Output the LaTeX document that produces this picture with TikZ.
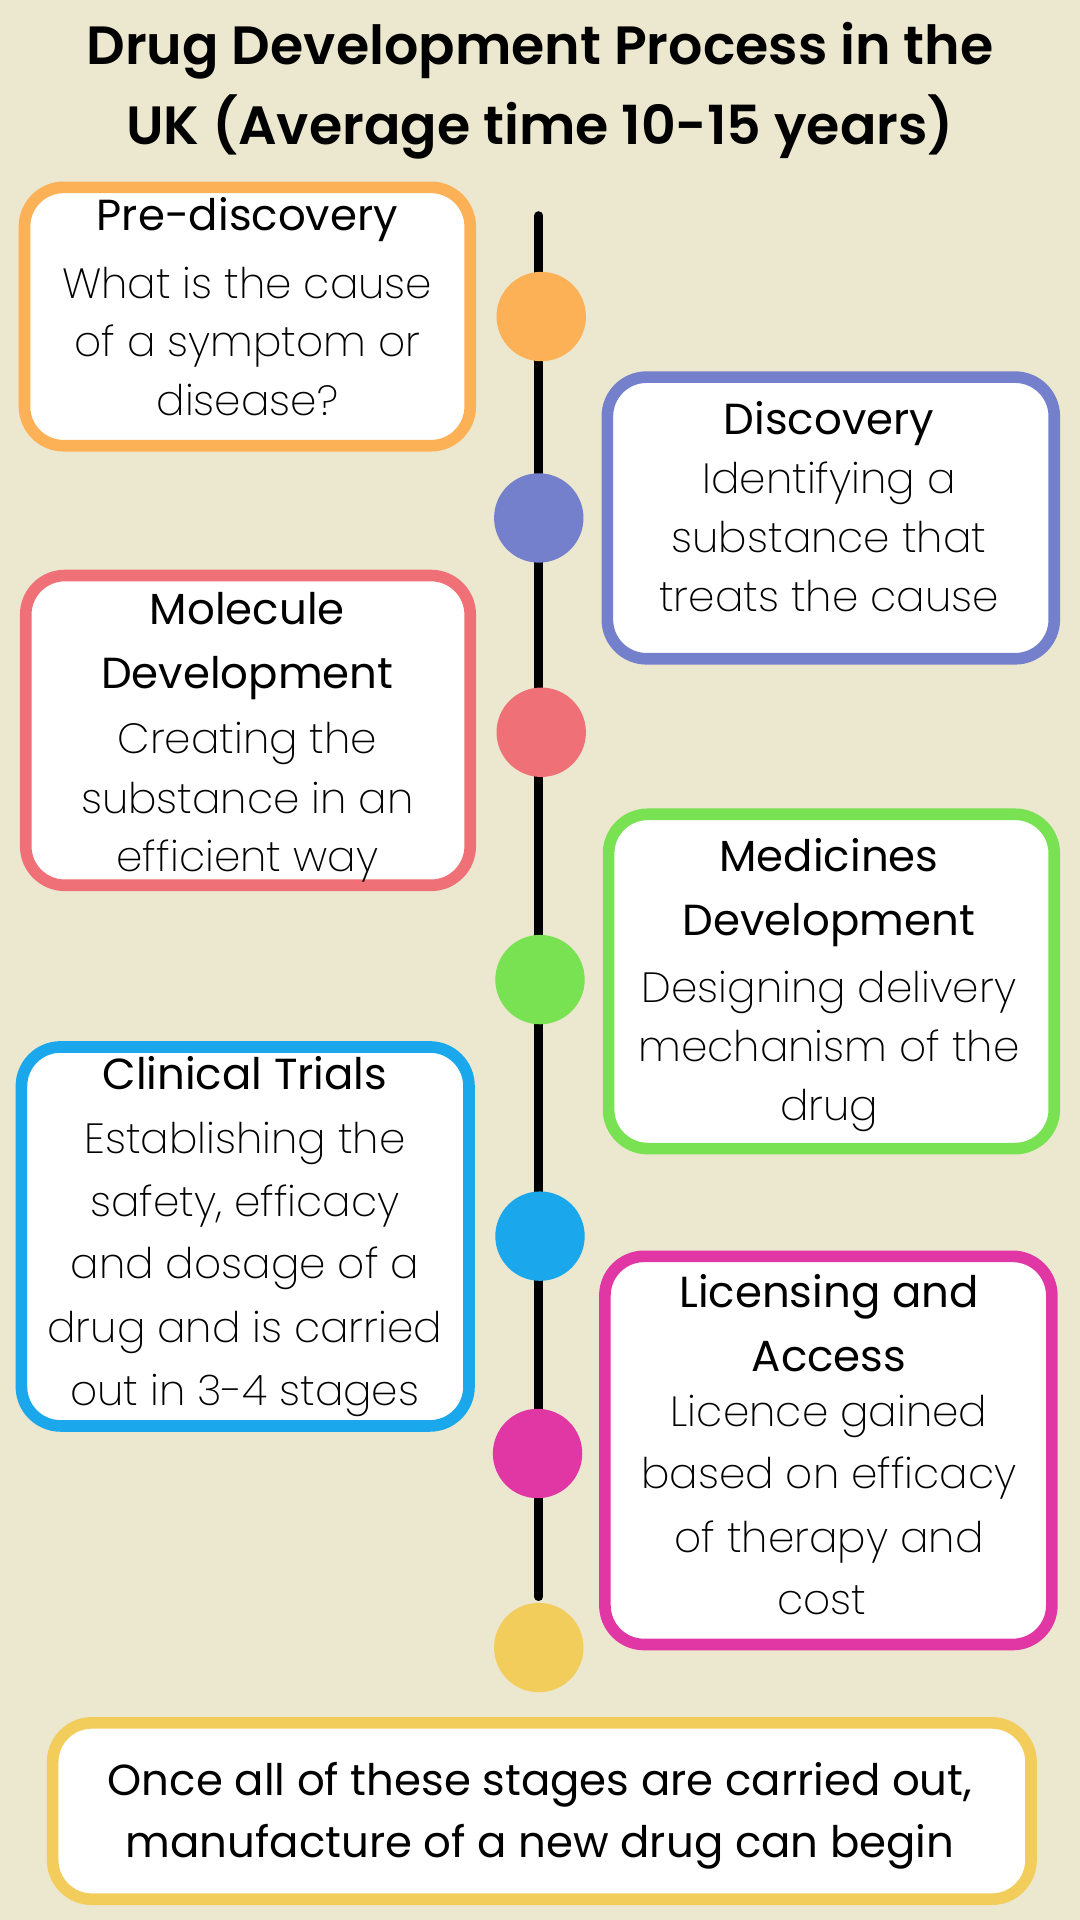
\documentclass[tikz,border=0pt]{standalone}
\usepackage{fontspec}
\setmainfont{Poppins}
\newfontfamily\titlefont{Poppins SemiBold}
\newfontfamily\headfont{Poppins}
\newfontfamily\bodyfont{Poppins ExtraLight}
\definecolor{bg}{HTML}{ECE7CF}
\definecolor{corange}{HTML}{FDB157}
\definecolor{cpurple}{HTML}{7580CC}
\definecolor{cred}{HTML}{EF7077}
\definecolor{cgreen}{HTML}{78E252}
\definecolor{cblue}{HTML}{1AA7EC}
\definecolor{cmag}{HTML}{E037A5}
\definecolor{cyellow}{HTML}{F2CD5B}
\tikzset{
  stagebox/.style={draw=#1, fill=white, line width=9.5pt, rounded corners=32pt},
  dot/.style={circle, fill=#1, minimum size=73pt, inner sep=0pt},
  titletxt/.style={font=\titlefont\fontsize{44}{53}\selectfont, anchor=base, inner sep=0pt},
  headtxt/.style={font=\headfont\fontsize{35.5}{52}\selectfont, anchor=base, inner sep=0pt},
  bodytxt/.style={font=\bodyfont\fontsize{34.5}{49}\selectfont, anchor=base, inner sep=0pt},
  endtxt/.style={font=\headfont\fontsize{35.5}{51}\selectfont, anchor=base, inner sep=0pt},
}
\begin{document}
\begin{tikzpicture}[x=1pt,y=-1pt]
\fill[bg] (0,0) rectangle (882,1568);
\useasboundingbox (0,0) rectangle (882,1568);
% title
\node[titletxt] (t1) at (441,53) {Drug Development Process in the};
\node[titletxt] (t2) at (441,118) {UK (Average time 10-15 years)};
% timeline
\coordinate (ltop) at (440,176);
\coordinate (lbot) at (440,1304);
\draw[line width=7pt, line cap=round] (ltop) -- (lbot);
\node[dot=corange] (d1) at (442,258.5) {};
\node[dot=cpurple] (d2) at (440,423) {};
\node[dot=cred] (d3) at (442,598) {};
\node[dot=cgreen] (d4) at (441,800) {};
\node[dot=cblue] (d5) at (441,1009.5) {};
\node[dot=cmag] (d6) at (439,1187) {};
\node[dot=cyellow] (d7) at (440,1345.5) {};
% boxes
\draw[stagebox=corange] (20,153) rectangle (384,364);
\draw[stagebox=cpurple] (496,308) rectangle (861,538);
\draw[stagebox=cred] (21,470) rectangle (384,723);
\draw[stagebox=cgreen] (497,665) rectangle (861,938);
\draw[stagebox=cblue] (17.5,855) rectangle (383,1164.5);
\draw[stagebox=cmag] (494,1026) rectangle (859,1343);
\draw[stagebox=cyellow] (43,1407) rectangle (842,1551);
% Pre-discovery
\node[headtxt] (h1) at (202,188) {Pre-discovery};
\node[bodytxt] (b11) at (202,244) {What is the cause};
\node[bodytxt] (b12) at (202,291.5) {of a symptom or};
\node[bodytxt] (b13) at (202,339) {disease?};
% Discovery
\node[headtxt] (h2) at (677,355) {Discovery};
\node[bodytxt] (b21) at (677,403) {Identifying a};
\node[bodytxt] (b22) at (677,451.5) {substance that};
\node[bodytxt] (b23) at (677,499) {treats the cause};
% Molecule
\node[headtxt] (h31) at (202,510) {Molecule};
\node[headtxt] (h32) at (202,562) {Development};
\node[bodytxt] (b31) at (202,615) {Creating the};
\node[bodytxt] (b32) at (202,664) {substance in an};
\node[bodytxt] (b33) at (202,712) {efficient way};
% Medicines
\node[headtxt] (h41) at (677,712) {Medicines};
\node[headtxt] (h42) at (677,764) {Development};
\node[bodytxt] (b41) at (677,819) {Designing delivery};
\node[bodytxt] (b42) at (677,867) {mechanism of the};
\node[bodytxt] (b43) at (677,915) {drug};
% Clinical
\node[headtxt] (h5) at (200,890) {Clinical Trials};
\node[bodytxt] (b51) at (200,942) {Establishing the};
\node[bodytxt] (b52) at (200,993.5) {safety, efficacy};
\node[bodytxt] (b53) at (200,1044.5) {and dosage of a};
\node[bodytxt] (b54) at (200,1096.5) {drug and is carried};
\node[bodytxt] (b55) at (200,1147.5) {out in 3-4 stages};
% Licensing
\node[headtxt] (h61) at (677,1068) {Licensing and};
\node[headtxt] (h62) at (677,1120) {Access};
\node[bodytxt] (b61) at (677,1165) {Licence gained};
\node[bodytxt] (b62) at (677,1216) {based on efficacy};
\node[bodytxt] (b63) at (677,1267.5) {of therapy and};
\node[bodytxt] (b64) at (671,1318.5) {cost};
% final
\node[endtxt] (e1) at (441,1466) {Once all of these stages are carried out,};
\node[endtxt] (e2) at (441,1517) {manufacture of a new drug can begin};
\end{tikzpicture}
\end{document}
